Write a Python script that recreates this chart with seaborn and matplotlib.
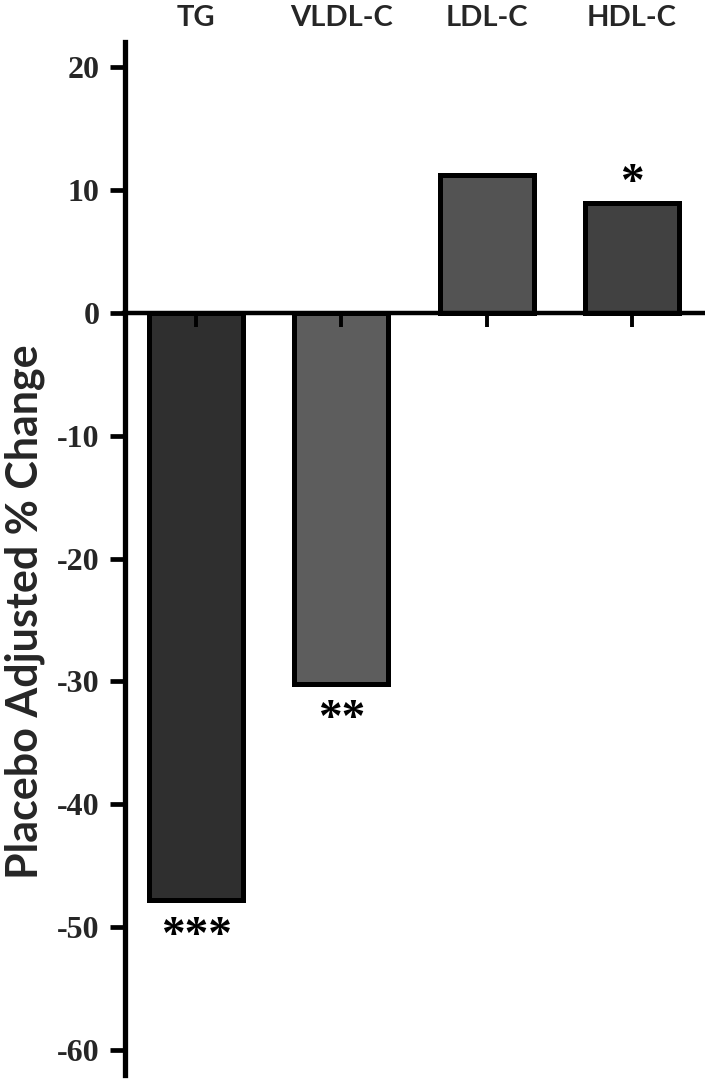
import matplotlib
matplotlib.use("Agg")
import matplotlib.pyplot as plt
import seaborn as sns

categories = ["TG", "VLDL-C", "LDL-C", "HDL-C"]
values = [-47.8, -30.2, 11.2, 8.9]
significance = ["***", "**", "", "*"]
bar_colors = ["#2f2f2f", "#5d5d5d", "#535353", "#414141"]
yticks = [20, 10, 0, -10, -20, -30, -40, -50, -60]
ylabel = "Placebo Adjusted % Change"

sns.set_style("ticks")
plt.rcParams["font.family"] = ["Lato", "DejaVu Sans"]

W, H = 705, 1079
fig = plt.figure(figsize=(W / 100, H / 100), dpi=100)
ax = fig.add_axes([124.5 / W, 1 - 1075 / H, (703 - 124.5) / W, (1075 - 42) / H])

sns.barplot(x=categories, y=values, hue=categories, palette=bar_colors,
            legend=False, width=0.647, saturation=1, edgecolor="black",
            linewidth=3.6, ax=ax)

ax.set_xlim(-0.492, 3.489)
ax.set_ylim(-62, 22)
ax.set_axisbelow(False)

for s in ["top", "right"]:
    ax.spines[s].set_visible(False)
ax.spines["left"].set_linewidth(3.8)
ax.spines["left"].set_color("black")
ax.spines["bottom"].set_linewidth(3.2)
ax.spines["bottom"].set_color("black")
ax.spines["bottom"].set_position(("data", 0))
ax.spines["bottom"].set_zorder(3)
ax.spines["left"].set_zorder(3)

ax.set_yticks(yticks)
ax.set_yticklabels([str(v) for v in yticks], fontfamily="Liberation Serif",
                   fontweight="bold", fontsize=23)
ax.tick_params(axis="y", length=11, width=3.4, pad=7, color="black")
ax.tick_params(axis="x", length=10, width=2.8, bottom=True, labelbottom=False,
               top=False, labeltop=False, color="black")
ax.set_xticks(range(len(categories)))
ax.set_xlabel("")
ax.set_ylabel("")

sec = ax.secondary_xaxis("top")
sec.set_xticks(range(len(categories)), labels=categories)
sec.tick_params(length=0, pad=8)
for lab in sec.get_xticklabels():
    lab.set_fontfamily("Lato")
    lab.set_fontweight("bold")
    lab.set_fontsize(21)
sec.spines["top"].set_visible(False)

for i, (v, sig) in enumerate(zip(values, significance)):
    if not sig:
        continue
    if v < 0:
        ax.annotate(sig, (i, v), xytext=(0, -34), textcoords="offset points",
                    ha="center", va="baseline", fontsize=34, fontweight="bold",
                    fontfamily="Liberation Serif", color="black")
    else:
        ax.annotate(sig, (i, v), xytext=(0, 6), textcoords="offset points",
                    ha="center", va="baseline", fontsize=34, fontweight="bold",
                    fontfamily="Liberation Serif", color="black")

fig.text(25 / W, 1 - 612 / H, ylabel, rotation=90, ha="center", va="center",
         fontfamily="Lato", fontweight="bold", fontsize=31)

fig.savefig("out.png", dpi=100)
